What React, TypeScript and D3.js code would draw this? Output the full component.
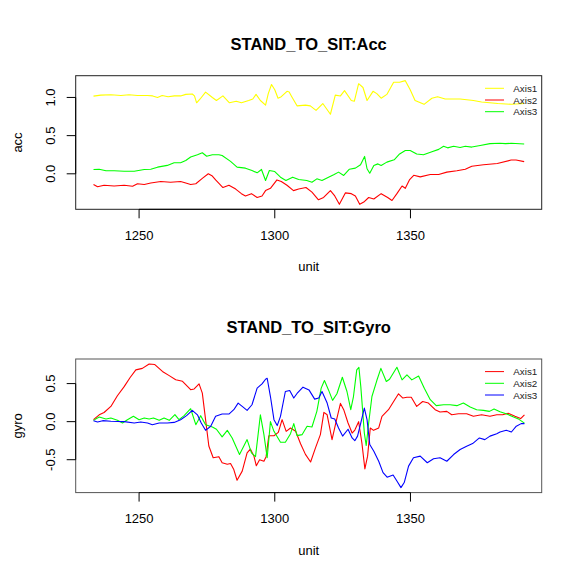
import React from "react";
import * as d3 from "d3";

// ---------- data ----------
const xTicks = [1250, 1300, 1350];
const accTicks = [0.0, 0.5, 1.0];
const gyroTicks = [-0.5, 0.0, 0.5];
const legendLabels = ["Axis1", "Axis2", "Axis3"];
const unitRange = [1233, 1392];

// Acc Axis1 (yellow)
const accAxis1: [number, number][] = [
  [1233.2, 1.017], [1235.9, 1.03], [1239.6, 1.035], [1243.3, 1.025], [1246.3, 1.035], [1249.4, 1.025],
  [1253.1, 1.025], [1255, 1.02], [1256.8, 1.0], [1258.5, 1.025], [1260.7, 1.01], [1263, 1.02],
  [1265.3, 1.02], [1267.2, 1.04], [1269.6, 1.045], [1270.4, 1.02], [1271.2, 0.93], [1272.5, 0.98],
  [1274.5, 1.07], [1277, 1.0], [1278.5, 0.96], [1280.9, 1.02], [1283.3, 0.93], [1285.8, 0.95],
  [1287.7, 0.93], [1290.4, 0.96], [1291.9, 0.98], [1293.1, 1.04], [1294.7, 0.96], [1296.6, 0.9],
  [1297.6, 1.05], [1298.8, 1.17], [1300, 1.1], [1301.2, 0.99], [1302.4, 1.01], [1304.5, 1.08],
  [1305.3, 1.07], [1306.1, 1.02], [1308.2, 0.89], [1311.3, 0.9], [1313.1, 0.89], [1315.2, 0.83],
  [1317.7, 0.92], [1320.5, 0.78], [1322.3, 1.03], [1324.2, 1.02], [1325.7, 1.09], [1328.2, 0.96],
  [1329.3, 0.95], [1330.9, 1.18], [1332.5, 1.13], [1334, 0.96], [1336.2, 1.08], [1337.6, 1.05],
  [1339.2, 0.99], [1341.3, 1.04], [1343.8, 1.2], [1346, 1.2], [1348.1, 1.22], [1349.9, 1.1],
  [1351.7, 0.96], [1355, 0.91], [1357.9, 0.99], [1360, 1.01], [1362.8, 0.98], [1368.3, 0.98],
  [1373.2, 0.96], [1376.2, 0.94], [1382.2, 0.92], [1387.3, 0.91], [1391.9, 0.92],
];

// Acc Axis2 (red)
const accAxis2: [number, number][] = [
  [1233.2, -0.14], [1234.7, -0.17], [1237.1, -0.15], [1240.8, -0.16], [1244.5, -0.15], [1247.6, -0.163],
  [1249.4, -0.13], [1251.9, -0.14], [1254.3, -0.12], [1258, -0.1], [1261.6, -0.11], [1265.3, -0.1],
  [1267.2, -0.12], [1269, -0.14], [1270.9, -0.13], [1273.3, -0.06], [1275.5, 0.0], [1277, -0.03],
  [1278.2, -0.08], [1280.9, -0.18], [1283.1, -0.15], [1285.6, -0.2], [1287.7, -0.26], [1289.2, -0.29],
  [1291.4, -0.26], [1293.5, -0.31], [1295.3, -0.29], [1296.6, -0.22], [1298.4, -0.19], [1300.8, -0.08],
  [1302.4, -0.1], [1304.5, -0.15], [1306.9, -0.22], [1308.8, -0.2], [1311.5, -0.18], [1313.7, -0.24],
  [1316.1, -0.34], [1318, -0.31], [1320.5, -0.22], [1322.1, -0.29], [1323.8, -0.4], [1326, -0.25],
  [1328.2, -0.26], [1329.7, -0.29], [1331.3, -0.4], [1332.8, -0.37], [1334.6, -0.31], [1336.5, -0.33],
  [1339.2, -0.26], [1341.6, -0.31], [1343.2, -0.35], [1345, -0.26], [1346.9, -0.16], [1348.1, -0.19],
  [1349.7, -0.075], [1351.2, -0.02], [1353.6, -0.04], [1357.3, -0.01], [1360.4, -0.01], [1363.4, 0.022],
  [1367.1, 0.04], [1370.2, 0.06], [1372.6, 0.1], [1376.9, 0.118], [1382, 0.135], [1387.1, 0.18],
  [1388.9, 0.18], [1391.9, 0.16],
];

// Acc Axis3 (green)
const accAxis3: [number, number][] = [
  [1233.2, 0.057], [1235.3, 0.06], [1237.8, 0.04], [1240.8, 0.04], [1244.5, 0.034], [1248.2, 0.034],
  [1251.9, 0.057], [1254.3, 0.06], [1256.8, 0.087], [1260.4, 0.11], [1262.9, 0.145], [1265.3, 0.145],
  [1267.2, 0.175], [1269, 0.22], [1271.5, 0.25], [1273.3, 0.276], [1274.9, 0.23], [1277, 0.25],
  [1279.4, 0.25], [1280.6, 0.24], [1283.7, 0.163], [1286.1, 0.087], [1289.2, 0.074], [1291.6, 0.043],
  [1293.5, 0.013], [1295.1, 0.057], [1296.6, -0.088], [1298, 0.043], [1300, 0.03], [1302.1, -0.044],
  [1304.1, -0.088], [1306.6, -0.044], [1308.8, -0.075], [1311.8, -0.088], [1313.7, -0.11], [1315.5, -0.066],
  [1317.4, -0.088], [1319.8, -0.044], [1321.7, -0.013], [1323.5, 0.022], [1325.4, -0.022], [1327.5, 0.06],
  [1329.7, 0.074], [1331.6, 0.118], [1333.1, 0.228], [1334, 0.066], [1335, 0.008], [1336.5, 0.11],
  [1338, 0.13], [1339.2, 0.11], [1341.3, 0.153], [1344, 0.184], [1346, 0.26], [1348.1, 0.306],
  [1349.9, 0.306], [1352.3, 0.26], [1354.8, 0.25], [1357.9, 0.29], [1360.4, 0.32], [1362.2, 0.36],
  [1363.7, 0.34], [1365.9, 0.36], [1368.3, 0.345], [1370.2, 0.36], [1372.6, 0.35], [1375.7, 0.37],
  [1379.3, 0.395], [1383, 0.4], [1385, 0.395], [1387.1, 0.4], [1391.9, 0.39],
];

// Gyro Axis1 (red)
const gyroAxis1: [number, number][] = [
  [1233.2, 0.026], [1235.3, 0.09], [1237.1, 0.12], [1239.6, 0.2], [1242, 0.34], [1244.5, 0.46],
  [1246.7, 0.58], [1248.8, 0.68], [1251.2, 0.7], [1253.7, 0.758], [1255.8, 0.75], [1258.6, 0.66],
  [1261.1, 0.605], [1263.5, 0.55], [1266, 0.53], [1269, 0.42], [1270.3, 0.43], [1272.1, 0.496],
  [1273.3, 0.375], [1274.5, 0.026], [1275.7, -0.32], [1277.3, -0.475], [1279.4, -0.46], [1280.6, -0.54],
  [1282.5, -0.56], [1283.7, -0.55], [1284.9, -0.63], [1286.1, -0.77], [1288, -0.65], [1289.8, -0.41],
  [1291, -0.36], [1292.3, -0.45], [1293.2, -0.58], [1294.4, -0.5], [1296, -0.52], [1296.8, -0.46],
  [1297.8, -0.185], [1299.7, -0.185], [1301.3, -0.14], [1302.7, 0.026], [1304.2, -0.127], [1305.8, -0.083],
  [1307.7, -0.127], [1309.5, -0.29], [1311.3, -0.43], [1313.2, -0.53], [1315, -0.345], [1316.8, -0.17],
  [1318.1, 0.122], [1319.3, 0.09], [1321.1, -0.236], [1322.6, 0.0], [1324.2, 0.24], [1325.4, 0.157],
  [1327, -0.018], [1328.5, -0.15], [1329.5, -0.11], [1330.9, 0.0], [1332.1, -0.28], [1333.2, -0.62],
  [1334.2, -0.453], [1335.2, -0.083], [1336.4, -0.114], [1338.3, -0.083], [1339.5, 0.07], [1341.9, 0.157],
  [1343.8, 0.265], [1345.6, 0.366], [1347.2, 0.31], [1348.7, 0.32], [1350.3, 0.32], [1352.3, 0.2],
  [1354.5, 0.265], [1356.6, 0.244], [1359.1, 0.157], [1360.9, 0.126], [1363.4, 0.135], [1365.2, 0.09],
  [1367.7, 0.104], [1370.7, 0.104], [1373.2, 0.07], [1376.2, 0.09], [1379.3, 0.07], [1381.8, 0.09],
  [1384, 0.09], [1386, 0.11], [1388.5, 0.07], [1390.6, 0.04], [1392, 0.09],
];

// Gyro Axis2 (green)
const gyroAxis2: [number, number][] = [
  [1233.2, 0.017], [1235.3, 0.06], [1237.8, 0.035], [1239.6, 0.048], [1242, 0.017], [1243.9, -0.017],
  [1245.7, 0.026], [1247.9, 0.07], [1250, 0.026], [1251.9, 0.048], [1253.7, 0.035], [1255.3, 0.048],
  [1257.4, 0.017], [1259.2, 0.048], [1261.1, 0.017], [1263.2, 0.092], [1264.7, 0.026], [1266.6, 0.079],
  [1269, 0.17], [1270.9, -0.04], [1272.7, 0.079], [1274.5, -0.04], [1277, -0.07], [1278.5, -0.1],
  [1280.6, -0.2], [1282.5, -0.114], [1284.3, -0.214], [1287, -0.432], [1288.6, -0.32], [1289.8, -0.236],
  [1291.4, -0.41], [1292.9, -0.46], [1294.7, 0.09], [1296, -0.17], [1297.2, -0.475], [1298.4, 0.0],
  [1299.7, -0.127], [1302.1, -0.27], [1303.9, -0.27], [1305.8, -0.158], [1307, -0.026], [1308.2, -0.184],
  [1310.1, -0.17], [1311.9, -0.061], [1313.7, -0.07], [1315.5, 0.135], [1317.1, 0.44], [1318.3, 0.54],
  [1319.8, 0.417], [1321.3, 0.28], [1322.9, 0.366], [1324.9, 0.583], [1326.6, 0.396], [1328, 0.157],
  [1329, 0.33], [1330.2, 0.68], [1331, 0.714], [1331.7, 0.46], [1333, -0.15], [1333.7, -0.314],
  [1334.6, -0.017], [1335.8, 0.33], [1337.6, 0.54], [1339.1, 0.7], [1341.1, 0.527], [1342.3, 0.557],
  [1345, 0.714], [1346.9, 0.549], [1348.7, 0.614], [1350.5, 0.549], [1353, 0.6], [1355.1, 0.44],
  [1357.3, 0.288], [1359.5, 0.21], [1362.2, 0.222], [1364.6, 0.222], [1367.1, 0.21], [1369.5, 0.244],
  [1372, 0.192], [1374.4, 0.157], [1376.9, 0.148], [1379.1, 0.135], [1380.8, 0.165], [1383, 0.13],
  [1385.5, 0.1], [1388, 0.06], [1390, 0.03], [1392, -0.02],
];

// Gyro Axis3 (blue)
const gyroAxis3: [number, number][] = [
  [1233.2, 0.013], [1234.7, -0.004], [1236.6, 0.013], [1239.6, 0.005], [1244.5, 0.0], [1248.2, -0.017],
  [1250.6, -0.005], [1253.1, -0.017], [1254.9, -0.04], [1257.4, -0.017], [1260.4, -0.017], [1262.9, -0.01],
  [1265.3, 0.026], [1267.5, 0.079], [1269.6, 0.148], [1271.5, 0.09], [1272.9, -0.017], [1274.5, -0.114],
  [1276.4, -0.061], [1278.2, 0.07], [1280.6, 0.1], [1283.1, 0.1], [1284.9, 0.157], [1286.5, 0.244],
  [1288, 0.2], [1289.8, 0.148], [1291.6, 0.222], [1293.5, 0.44], [1295.3, 0.496], [1296.6, 0.557],
  [1297.2, 0.57], [1298.4, 0.33], [1299.7, 0.026], [1300.9, -0.052], [1302.1, 0.07], [1303.9, 0.396],
  [1305.5, 0.41], [1307, 0.31], [1308.2, 0.37], [1310.4, 0.453], [1312.6, 0.417], [1314.7, 0.296],
  [1316.2, 0.31], [1317.4, 0.396], [1319.3, 0.244], [1320.8, 0.048], [1322.1, 0.035], [1323.5, -0.083],
  [1325, -0.19], [1327, -0.1], [1328.5, -0.214], [1329.5, -0.25], [1330.5, -0.19], [1331.7, -0.017],
  [1333, 0.179], [1334, 0.026], [1335, -0.3], [1336.5, -0.388], [1338.3, -0.52], [1339.9, -0.67],
  [1341.4, -0.73], [1343.6, -0.7], [1345, -0.78], [1346.5, -0.867], [1347.7, -0.8], [1349.3, -0.584],
  [1351.1, -0.475], [1353.6, -0.453], [1356.2, -0.54], [1358.5, -0.488], [1360.9, -0.475], [1363.4, -0.52],
  [1365.9, -0.432], [1368.3, -0.366], [1370.7, -0.323], [1372.9, -0.288], [1375.4, -0.214], [1377.4, -0.236],
  [1379.3, -0.19], [1381.8, -0.158], [1383, -0.136], [1385.3, -0.114], [1387.2, -0.136], [1389, -0.06],
  [1390.8, -0.026], [1392, -0.026],
];

const FONT = "'Liberation Sans', Arial, Helvetica, sans-serif";

type PanelProps = {
  title: string;
  ylab: string;
  top: number; // box top
  series: { data: [number, number][]; color: string }[];
  yTicks: number[];
  boxColor: string;
};

const BOX_LEFT = 75.7;
const BOX_RIGHT = 541.7;
const BOX_H = 133.6;

function pad(ext: [number, number]): [number, number] {
  const r = ext[1] - ext[0];
  return [ext[0] - 0.04 * r, ext[1] + 0.04 * r];
}

function Panel({ title, ylab, top, series, yTicks, boxColor }: PanelProps) {
  const bottom = top + BOX_H;
  const x = d3.scaleLinear().domain(pad(unitRange as [number, number])).range([BOX_LEFT, BOX_RIGHT]);
  const all = series.flatMap((s) => s.data.map((d) => d[1]));
  const y = d3.scaleLinear().domain(pad(d3.extent(all) as [number, number])).range([bottom, top]);
  const line = d3
    .line<[number, number]>()
    .x((d) => x(d[0]))
    .y((d) => y(d[1]));
  const cx = (BOX_LEFT + BOX_RIGHT) / 2;
  const cy = (top + bottom) / 2;
  const tick = 9;
  return (
    <g>
      <text x={cx} y={top - 26} textAnchor="middle" fontFamily={FONT} fontWeight="bold" fontSize={16.5} fill="#000">
        {title}
      </text>
      {series.map((s, i) => (
        <path key={i} d={line(s.data) || ""} fill="none" stroke={s.color} strokeWidth={1.1} strokeLinejoin="round" />
      ))}
      <rect x={BOX_LEFT} y={top} width={BOX_RIGHT - BOX_LEFT} height={BOX_H} fill="none" stroke={boxColor} strokeWidth={1} />
      {/* x axis */}
      <line x1={x(xTicks[0])} x2={x(xTicks[xTicks.length - 1])} y1={bottom} y2={bottom} stroke="#000" />
      {xTicks.map((t) => (
        <g key={t}>
          <line x1={x(t)} x2={x(t)} y1={bottom} y2={bottom + tick} stroke="#000" />
          <text x={x(t)} y={bottom + 30.5} textAnchor="middle" fontFamily={FONT} fontSize={13} fill="#000">
            {t}
          </text>
        </g>
      ))}
      {/* y axis */}
      <line x1={BOX_LEFT} x2={BOX_LEFT} y1={y(yTicks[0])} y2={y(yTicks[yTicks.length - 1])} stroke="#000" />
      {yTicks.map((t) => (
        <g key={t}>
          <line x1={BOX_LEFT - tick} x2={BOX_LEFT} y1={y(t)} y2={y(t)} stroke="#000" />
          <text
            transform={`translate(${BOX_LEFT - 21},${y(t)}) rotate(-90)`}
            textAnchor="middle"
            fontFamily={FONT}
            fontSize={13}
            fill="#000"
          >
            {t.toFixed(1)}
          </text>
        </g>
      ))}
      <text x={cx} y={bottom + 62} textAnchor="middle" fontFamily={FONT} fontSize={13} fill="#000">
        unit
      </text>
      <text
        transform={`translate(${BOX_LEFT - 54},${cy}) rotate(-90)`}
        textAnchor="middle"
        fontFamily={FONT}
        fontSize={13}
        fill="#000"
      >
        {ylab}
      </text>
      {/* legend */}
      {series.map((s, i) => {
        const ly = top + 12.6 + i * 11.7;
        return (
          <g key={"lg" + i}>
            <line x1={485} x2={504} y1={ly} y2={ly} stroke={s.color} strokeWidth={1} />
            <text x={513.3} y={ly + 3.5} fontFamily={FONT} fontSize={9.8} fill="#222">
              {legendLabels[i]}
            </text>
          </g>
        );
      })}
    </g>
  );
}

export default function App() {
  return (
    <svg
      width={565}
      height={569}
      style={{ position: "absolute", left: 0, top: 0, background: "#fff" }}
    >
      <rect width={565} height={569} fill="#fff" />
      <Panel
        title="STAND_TO_SIT:Acc"
        ylab="acc"
        top={75.7}
        yTicks={accTicks}
        boxColor="#222"
        series={[
          { data: accAxis1, color: "#FFFF00" },
          { data: accAxis2, color: "#FF0000" },
          { data: accAxis3, color: "#00FF00" },
        ]}
      />
      <Panel
        title="STAND_TO_SIT:Gyro"
        ylab="gyro"
        top={359}
        yTicks={gyroTicks}
        boxColor="#555"
        series={[
          { data: gyroAxis1, color: "#FF0000" },
          { data: gyroAxis2, color: "#00FF00" },
          { data: gyroAxis3, color: "#0000FF" },
        ]}
      />
    </svg>
  );
}
